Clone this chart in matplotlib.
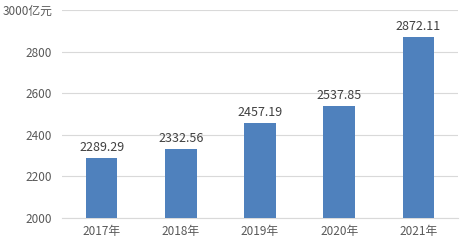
import matplotlib.pyplot as plt

plt.rcParams['font.family'] = ['Noto Sans CJK SC', 'DejaVu Sans']

years = ["2017年", "2018年", "2019年", "2020年", "2021年"]
values = [2289.29, 2332.56, 2457.19, 2537.85, 2872.11]
yticks = [2000, 2200, 2400, 2600, 2800, 3000]
ytick_labels = ["2000", "2200", "2400", "2600", "2800", "3000亿元"]

fig = plt.figure(figsize=(4.67, 2.46), dpi=100)
ax = fig.add_axes([62 / 467, 28 / 246, 396 / 467, 208 / 246])

x = range(len(years))
ax.bar(x, values, width=0.4, color="#4F81BD", zorder=3)
for i, v in enumerate(values):
    ax.text(i, v + 18, f"{v:.2f}", ha="center", va="bottom",
            fontsize=9, color="#404040")

ax.set_xlim(-0.5, len(years) - 0.5)
ax.set_ylim(2000, 3000)
ax.set_yticks(yticks)
ax.set_yticklabels(ytick_labels)
ax.set_xticks(list(x))
ax.set_xticklabels(years)
ax.tick_params(axis="both", length=0, labelsize=8.5, labelcolor="#595959")
ax.tick_params(axis="y", pad=7)
ax.tick_params(axis="x", pad=5)
ax.grid(axis="y", color="#D9D9D9", linewidth=0.8, zorder=0)
for s in ["top", "right", "left"]:
    ax.spines[s].set_visible(False)
ax.spines["bottom"].set_color("#D9D9D9")

fig.savefig("out.png", dpi=100)
